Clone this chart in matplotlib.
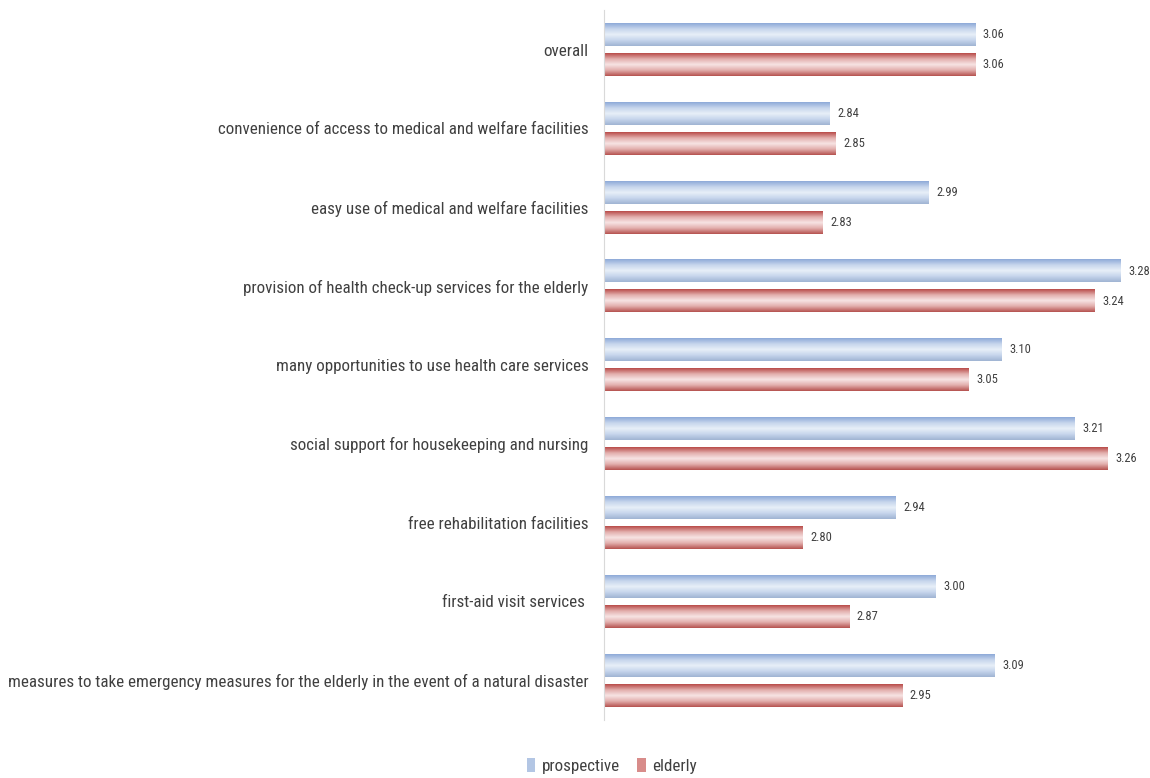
import numpy as np
import matplotlib
matplotlib.use("Agg")
import matplotlib.pyplot as plt
from matplotlib import font_manager
from matplotlib.colors import LinearSegmentedColormap
from matplotlib.patches import Patch

# pick a narrow face if one is installed
names = {f.name for f in font_manager.fontManager.ttflist}
narrow = [f for f in font_manager.fontManager.ttflist
          if f.stretch in ("condensed", "semi-condensed", 75, 87)]
family = "DejaVu Sans"
stretch = "normal"
for cand in ["Liberation Sans Narrow", "Roboto Condensed", "Open Sans Condensed"]:
    if cand in names:
        family = cand
        break
else:
    if narrow:
        family = narrow[0].name
        stretch = "condensed"
plt.rcParams["font.family"] = [family, "DejaVu Sans"]
plt.rcParams["font.stretch"] = stretch

categories = [
    "overall",
    "convenience of access to medical and welfare facilities",
    "easy use of medical and welfare facilities",
    "provision of health check-up services for the elderly",
    "many opportunities to use health care services",
    "social support for housekeeping and nursing",
    "free rehabilitation facilities",
    "first-aid visit services ",
    "measures to take emergency measures for the elderly in the event of a natural disaster",
]
prospective = [3.06, 2.84, 2.99, 3.28, 3.10, 3.21, 2.94, 3.00, 3.09]
elderly = [3.06, 2.85, 2.83, 3.24, 3.05, 3.26, 2.80, 2.87, 2.95]

blue_cmap = LinearSegmentedColormap.from_list(
    "blue_grad", ["#8eaad8", "#c6d5ec", "#e8eff8", "#c6d5ec", "#a0b4d3"])
red_cmap = LinearSegmentedColormap.from_list(
    "red_grad", ["#b94c49", "#e2aeac", "#f7e4e4", "#e2aeac", "#b65350"])

fig = plt.figure(figsize=(11.5, 7.78), dpi=100)
ax = fig.add_axes([0.525, 0.075, 0.461, 0.912])

y = np.arange(len(categories))
h = 0.29
off = 0.19
xmin = 2.5

grad = np.linspace(0, 1, 64).reshape(-1, 1)

bars_p = ax.barh(y - off, np.array(prospective) - xmin, left=xmin, height=h, color="none")
bars_e = ax.barh(y + off, np.array(elderly) - xmin, left=xmin, height=h, color="none")

for bars, cmap, vals in [(bars_p, blue_cmap, prospective), (bars_e, red_cmap, elderly)]:
    for b, v in zip(bars, vals):
        x0, y0 = b.get_x(), b.get_y()
        w, hh = b.get_width(), b.get_height()
        ax.imshow(grad, cmap=cmap, aspect="auto", extent=(x0, x0 + w, y0 + hh, y0),
                  interpolation="bilinear", zorder=2)
        ax.text(x0 + w + 0.012, y0 + hh / 2, f"{v:.2f}", va="center", ha="left",
                fontsize=9, color="#404040")

ax.set_xlim(xmin, 3.3)
ax.set_ylim(len(categories) - 0.5, -0.5)
ax.set_yticks(y)
ax.set_yticklabels(categories, fontsize=13, color="#404040")
ax.tick_params(axis="y", length=0, pad=11)
ax.set_xticks([])
for s in ["top", "right", "bottom"]:
    ax.spines[s].set_visible(False)
ax.spines["left"].set_color("#d9d9d9")

# shrink the category labels until the longest one fits the left margin
fig.canvas.draw()
rend = fig.canvas.get_renderer()
longest = max(t.get_window_extent(rend).width for t in ax.get_yticklabels())
fs = 13
if longest > 578:
    fs = 13 * 578 / longest
    ax.set_yticklabels(categories, fontsize=fs, color="#404040")

handles = [Patch(facecolor="#b3c6e4", edgecolor="none", label="prospective"),
           Patch(facecolor="#d88c8a", edgecolor="none", label="elderly")]
fig.legend(handles=handles, loc="center", bbox_to_anchor=(0.532, 0.015), ncol=2,
           frameon=False, fontsize=fs, handlelength=0.5, handleheight=0.9,
           handletextpad=0.4, columnspacing=1.0, labelcolor="#404040")

fig.savefig("out.png", dpi=100)
